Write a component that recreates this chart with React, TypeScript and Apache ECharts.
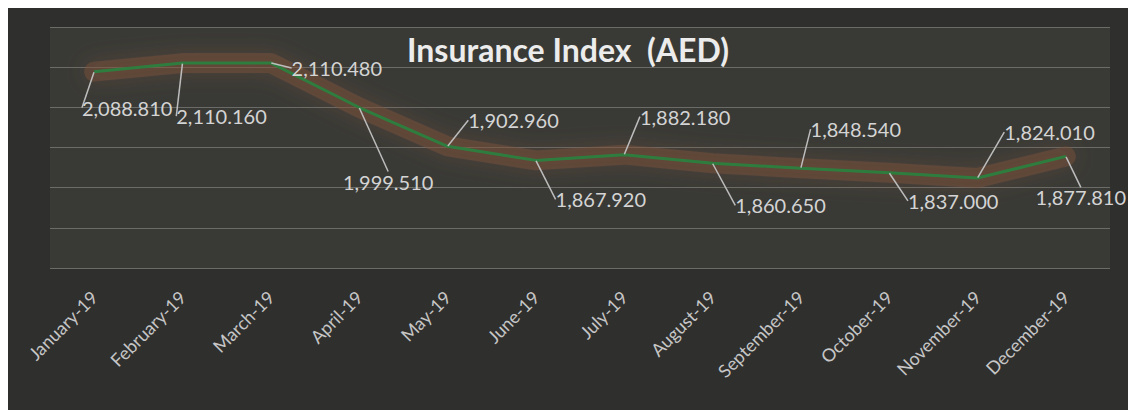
import React, { useEffect, useRef } from "react";
import * as echarts from "echarts";

const categories = [
  "January-19", "February-19", "March-19", "April-19", "May-19", "June-19",
  "July-19", "August-19", "September-19", "October-19", "November-19", "December-19",
];
const indexValues = [
  2088.81, 2110.16, 2110.48, 1999.51, 1902.96, 1867.92,
  1882.18, 1860.65, 1848.54, 1837.0, 1824.01, 1877.81,
];
const yTicks = { min: 1600, max: 2200, interval: 100 };

// label offsets (layout only) relative to each point, in px
const labelOffsets: [number, number][] = [
  [33, 36], [39, 53], [66, 5], [29, 74], [66, -26], [65, 39],
  [61, -38], [68, 42], [55, -39], [64, 28], [72, -46], [15, 41],
];

const FONT = "Lato, 'Open Sans', sans-serif";

export default function App() {
  const ref = useRef<HTMLDivElement>(null);
  useEffect(() => {
    if (!ref.current) return;
    const chart = echarts.init(ref.current, undefined, { renderer: "svg" });
    const fmt = (v: number) =>
      v.toLocaleString("en-US", { minimumFractionDigits: 3, maximumFractionDigits: 3 });
    chart.setOption({
      animation: false,
      backgroundColor: "#2f2f2e",
      textStyle: { fontFamily: FONT },
      title: {
        text: "Insurance Index  (AED)",
        left: "center",
        top: 23,
        textStyle: { color: "#ececec", fontSize: 32, fontWeight: "bold", fontFamily: FONT },
      },
      grid: {
        left: 42, right: 18, top: 22, bottom: 142,
        show: true, backgroundColor: "#393a36", borderWidth: 0,
      },
      xAxis: {
        type: "category",
        data: categories,
        boundaryGap: true,
        axisLine: { show: false },
        axisTick: { show: false },
        axisLabel: { rotate: 45, color: "#c6c6c6", fontSize: 18, margin: 26, fontFamily: FONT },
      },
      yAxis: {
        type: "value",
        min: yTicks.min, max: yTicks.max, interval: yTicks.interval,
        axisLabel: { show: false },
        axisLine: { show: false },
        axisTick: { show: false },
        splitLine: { lineStyle: { color: "#6b6c68", width: 1 } },
      },
      series: [
        {
          type: "line",
          data: indexValues,
          symbol: "none",
          silent: true,
          z: 1,
          lineStyle: {
            width: 20,
            color: "rgba(125,82,58,0.45)",
            shadowBlur: 22,
            shadowColor: "rgba(130,85,60,0.75)",
            cap: "round",
            join: "round",
          },
        },
        {
          type: "line",
          data: indexValues,
          symbol: "circle",
          symbolSize: 1,
          z: 3,
          itemStyle: { color: "rgba(0,0,0,0)" },
          lineStyle: { width: 3, color: "#2f7d3e" },
          label: {
            show: true,
            position: "inside",
            color: "#d4d4d4",
            fontSize: 20,
            fontFamily: FONT,
            formatter: (p: any) => fmt(p.value),
          },
          labelLine: { show: true, lineStyle: { color: "#bdbdbd", width: 1.5 } },
          labelLayout: (p: any) => {
            const o = labelOffsets[p.dataIndex] || [0, 0];
            return { dx: o[0], dy: o[1] };
          },
        },
      ],
    });
    return () => chart.dispose();
  }, []);
  return (
    <div style={{ background: "#fff" }}>
      <div ref={ref} style={{ width: 1120, height: 405, marginTop: -3 }} />
    </div>
  );
}
